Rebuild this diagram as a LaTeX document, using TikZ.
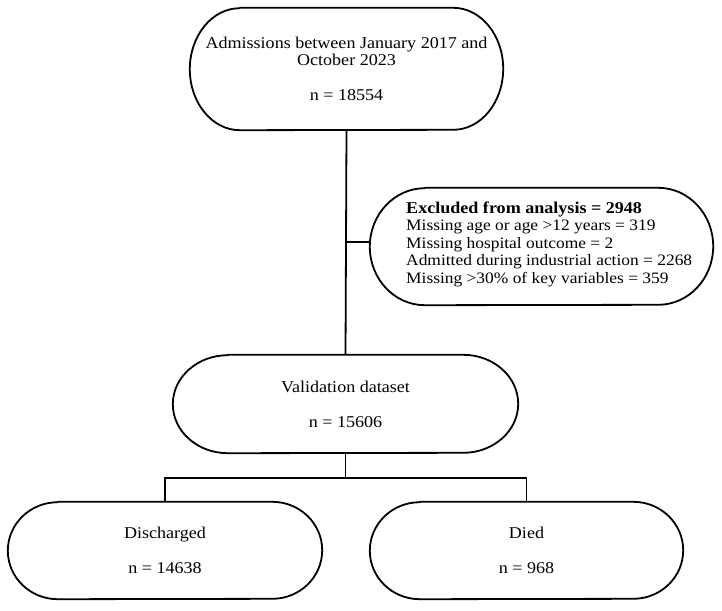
\documentclass[tikz,border=0pt]{standalone}
\usepackage{fontspec}
\setmainfont{Liberation Serif}[FakeStretch=1.095]
\begin{document}
\begin{tikzpicture}[x=1pt,y=-1pt,
  lw/.style={line width=1.8pt},
  boxline/.style={lw, line join=round},
  shapebox/.style={draw=none, rectangle, inner sep=0pt, align=center,
    font=\fontsize{16.5pt}{17.5pt}\selectfont},
  txt/.style={inner sep=0pt, align=left, font=\fontsize{15.9pt}{17.5pt}\selectfont}]
\useasboundingbox (0,0) rectangle (722,610);
\newcommand\termshape[3]{%
  \draw[boxline] ([xshift=#2]#1.north west) -- ([xshift=-#2]#1.north east)
    arc[start angle=90,end angle=-90,x radius=#2,y radius=#3]
    -- ([xshift=#2]#1.south west)
    arc[start angle=270,end angle=90,x radius=#2,y radius=#3] -- cycle;}

\node[shapebox, minimum width=313pt, minimum height=122pt] (top) at (346.5,69)
  {Admissions between January 2017 and\\October 2023\\[17.5pt]n = 18554};
\termshape{top}{50pt}{61pt}

\node[shapebox, minimum width=343pt, minimum height=117pt] (excl) at (541.5,246.5) {};
\termshape{excl}{55pt}{58.5pt}
\node[txt, anchor=west] (excltxt) at (406,244)
  {{\fontsize{16.5pt}{17.5pt}\selectfont\textbf{Excluded from analysis = 2948}}\\
   Missing age or age >12 years = 319\\
   Missing hospital outcome = 2\\
   Admitted during industrial action = 2268\\
   Missing >30\% of key variables = 359};

\node[shapebox, minimum width=345pt, minimum height=98pt] (valid) at (345.5,404)
  {Validation dataset\\[17.5pt]n = 15606};
\termshape{valid}{55pt}{49pt}

\node[shapebox, minimum width=314pt, minimum height=97pt] (dis) at (165,550.5)
  {Discharged\\[17.5pt]n = 14638};
\termshape{dis}{50pt}{48.5pt}

\node[shapebox, minimum width=313pt, minimum height=97pt] (died) at (526.5,550.5)
  {Died\\[17.5pt]n = 968};
\termshape{died}{50pt}{48.5pt}

\coordinate (br) at (346,242);
\coordinate (sp) at (346,478);
\draw[lw] (top.south) -- (valid.north);
\draw[lw] (br) -- (br -| excl.west);
\draw[lw] (valid.south) -- (valid.south |- sp);
\draw[lw, line join=miter] (dis.north) |- (sp) -| (died.north);
\end{tikzpicture}
\end{document}
